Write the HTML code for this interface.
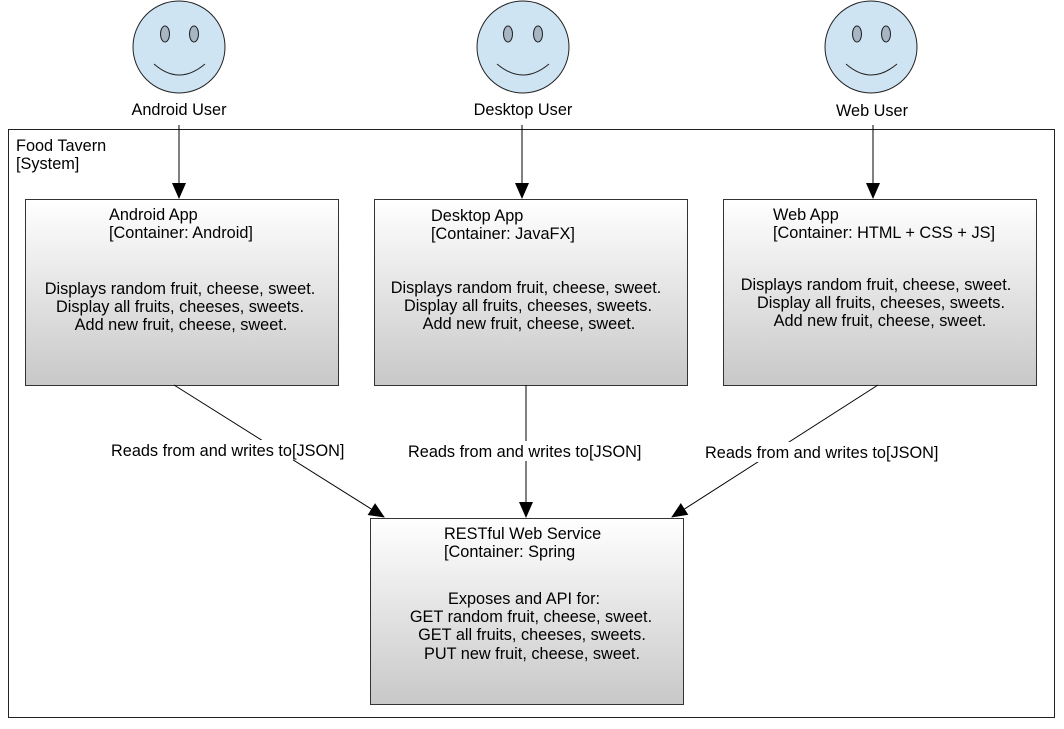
<!DOCTYPE html>
<html><head><meta charset="utf-8"><style>
html,body{margin:0;padding:0;background:#fff;}
svg{display:block;font-family:"Liberation Sans",sans-serif;font-size:16.3px;fill:#000;}
</style></head><body>
<svg width="1064" height="729" viewBox="0 0 1064 729" xmlns="http://www.w3.org/2000/svg">
<defs>
<linearGradient id="g" x1="0" y1="0" x2="0" y2="1">
<stop offset="0" stop-color="#ffffff"/><stop offset="1" stop-color="#c8c8c8"/>
</linearGradient>
<marker id="a" markerWidth="16" markerHeight="14" refX="15" refY="7" orient="auto" markerUnits="userSpaceOnUse">
<path d="M0,0 L16,7 L0,14 z" fill="#000"/>
</marker>
</defs>
<rect x="0" y="0" width="1064" height="729" fill="#fff"/>

<g stroke="#222" stroke-width="1">
<circle cx="179" cy="47" r="46" fill="#cfe4f3"/>
<ellipse cx="165" cy="34" rx="4.5" ry="8" fill="#a6b6c4"/>
<ellipse cx="194" cy="34" rx="4.5" ry="8" fill="#a6b6c4"/>
<path d="M154,64 Q179,86 205,64" fill="none"/>
<circle cx="523" cy="47" r="46" fill="#cfe4f3"/>
<ellipse cx="508" cy="34" rx="4.5" ry="8" fill="#a6b6c4"/>
<ellipse cx="538" cy="34" rx="4.5" ry="8" fill="#a6b6c4"/>
<path d="M497,64 Q523,86 549,64" fill="none"/>
<circle cx="871" cy="47" r="46" fill="#cfe4f3"/>
<ellipse cx="857" cy="34" rx="4.5" ry="8" fill="#a6b6c4"/>
<ellipse cx="886" cy="34" rx="4.5" ry="8" fill="#a6b6c4"/>
<path d="M846,64 Q871,86 897,64" fill="none"/>
</g>
<text x="179" y="115" text-anchor="middle">Android User</text>
<text x="523" y="115" text-anchor="middle">Desktop User</text>
<text x="872" y="116" text-anchor="middle">Web User</text>

<rect x="8.5" y="129.5" width="1046" height="588" fill="none" stroke="#222"/>
<text x="16" y="151">Food Tavern</text>
<text x="16" y="169">[System]</text>

<g stroke="#000" stroke-width="1">
<line x1="179" y1="125" x2="179" y2="198" marker-end="url(#a)"/>
<line x1="522" y1="125" x2="522" y2="198" marker-end="url(#a)"/>
<line x1="873" y1="125" x2="873" y2="198" marker-end="url(#a)"/>
</g>

<g stroke="#333" stroke-width="1" fill="url(#g)">
<rect x="25.5" y="199.5" width="313" height="186"/>
<rect x="374.5" y="199.5" width="313" height="186"/>
<rect x="723.5" y="199.5" width="313" height="186"/>
<rect x="370.5" y="518.5" width="313" height="186"/>
</g>

<text x="109" y="220">Android App</text>
<text x="109" y="238">[Container: Android]</text>
<text x="180" y="294" text-anchor="middle">Displays random fruit, cheese, sweet.</text>
<text x="180" y="312" text-anchor="middle">Display all fruits, cheeses, sweets.</text>
<text x="181" y="330" text-anchor="middle">Add new fruit, cheese, sweet.</text>

<text x="431" y="221">Desktop App</text>
<text x="431" y="239">[Container: JavaFX]</text>
<text x="526" y="293" text-anchor="middle">Displays random fruit, cheese, sweet.</text>
<text x="528" y="311" text-anchor="middle">Display all fruits, cheeses, sweets.</text>
<text x="529" y="329" text-anchor="middle">Add new fruit, cheese, sweet.</text>

<text x="773" y="220">Web App</text>
<text x="773" y="238">[Container: HTML + CSS + JS]</text>
<text x="876" y="290" text-anchor="middle">Displays random fruit, cheese, sweet.</text>
<text x="881" y="308" text-anchor="middle">Display all fruits, cheeses, sweets.</text>
<text x="880" y="326" text-anchor="middle">Add new fruit, cheese, sweet.</text>

<text x="444" y="539">RESTful Web Service</text>
<text x="444" y="557">[Container: Spring</text>
<text x="524" y="604" text-anchor="middle">Exposes and API for:</text>
<text x="531" y="622" text-anchor="middle">GET random fruit, cheese, sweet.</text>
<text x="532" y="640" text-anchor="middle">GET all fruits, cheeses, sweets.</text>
<text x="532" y="659" text-anchor="middle">PUT new fruit, cheese, sweet.</text>

<g stroke="#000" stroke-width="1">
<line x1="174" y1="385" x2="384" y2="517" marker-end="url(#a)"/>
<line x1="526" y1="385" x2="526" y2="517" marker-end="url(#a)"/>
<line x1="878" y1="385" x2="672" y2="517" marker-end="url(#a)"/>
</g>
<g fill="#fff">
<rect x="110" y="440" width="238" height="20"/>
<rect x="407" y="441" width="238" height="20"/>
<rect x="704" y="442" width="238" height="20"/>
</g>
<text x="111" y="456">Reads from and writes to[JSON]</text>
<text x="408" y="457">Reads from and writes to[JSON]</text>
<text x="705" y="458">Reads from and writes to[JSON]</text>
</svg>
</body></html>
